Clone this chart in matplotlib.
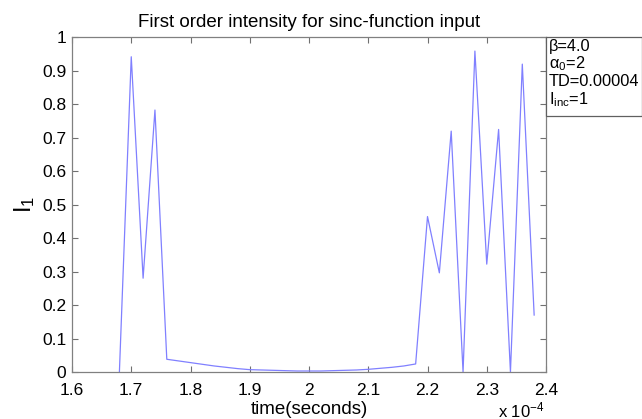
import matplotlib
matplotlib.use("Agg")
import matplotlib.pyplot as plt
from matplotlib.patches import Rectangle

plt.rcParams['font.family'] = ['Liberation Sans', 'DejaVu Sans']
plt.rcParams['mathtext.fontset'] = 'custom'
plt.rcParams['mathtext.rm'] = 'Liberation Sans'
plt.rcParams['mathtext.it'] = 'Liberation Sans:italic'

# time in units of 1e-4 seconds
t = [1.68, 1.70, 1.72, 1.74, 1.76, 1.78, 1.80, 1.82, 1.84, 1.86, 1.88, 1.90,
     1.92, 1.94, 1.96, 1.98, 2.00, 2.02, 2.04, 2.06, 2.08, 2.10, 2.12, 2.14,
     2.16, 2.18, 2.20, 2.22, 2.24, 2.26, 2.28, 2.30, 2.32, 2.34, 2.36, 2.38]
I1 = [0.0, 0.941, 0.280, 0.782, 0.038, 0.033, 0.028, 0.023, 0.018, 0.014, 0.010, 0.007,
      0.006, 0.005, 0.004, 0.003, 0.003, 0.003, 0.004, 0.005, 0.006, 0.008, 0.011, 0.014,
      0.018, 0.024, 0.464, 0.296, 0.719, 0.0, 0.958, 0.322, 0.724, 0.0, 0.919, 0.170]

xticks = [1.6, 1.7, 1.8, 1.9, 2.0, 2.1, 2.2, 2.3, 2.4]
xticklabels = ['1.6', '1.7', '1.8', '1.9', '2', '2.1', '2.2', '2.3', '2.4']
yticks = [0, 0.1, 0.2, 0.3, 0.4, 0.5, 0.6, 0.7, 0.8, 0.9, 1]
yticklabels = ['0', '0.1', '0.2', '0.3', '0.4', '0.5', '0.6', '0.7', '0.8', '0.9', '1']
params = ['β=4.0', 'α$_0$=2', 'TD=0.00004', 'I$_{\\mathrm{inc}}$=1']

W, H = 642, 419
fig = plt.figure(figsize=(W / 100, H / 100), dpi=100)
ax = fig.add_axes([72 / W, (H - 372) / H, (546 - 72) / W, (372 - 37) / H])
ax.plot(t, I1, color='#8080ff', lw=0.9)
ax.set_xlim(1.6, 2.4)
ax.set_ylim(0, 1)
ax.set_xticks(xticks)
ax.set_xticklabels(xticklabels)
ax.set_yticks(yticks)
ax.set_yticklabels(yticklabels)
ax.tick_params(direction='in', top=True, right=True, labelsize=12.5, length=4,
               color='#707070')
ax.tick_params(axis='x', pad=8)
ax.tick_params(axis='y', pad=4)
for s in ax.spines.values():
    s.set_color('#808080')
    s.set_linewidth(0.9)

ax.set_title('First order intensity for sinc-function input', fontsize=13.5, pad=7)
ax.set_xlabel('time(seconds)', fontsize=13.5, labelpad=2)
ax.set_ylabel('I$_1$', fontsize=17, labelpad=4)

fig.text(521 / W, (H - 410) / H, 'x 10$^{-4}$', fontsize=12, ha='center', va='center')

# parameter box
fig.patches.append(Rectangle((546 / W, (H - 116) / H), (W - 546) / W, (116 - 37) / H,
                             transform=fig.transFigure, fill=True, facecolor='white',
                             edgecolor='#606060', lw=0.9))
ys = [46, 64, 82, 100]
for s, yy in zip(params, ys):
    fig.text(549 / W, (H - yy) / H, s, fontsize=11.8, ha='left', va='center')

fig.savefig('out.png', dpi=100)
